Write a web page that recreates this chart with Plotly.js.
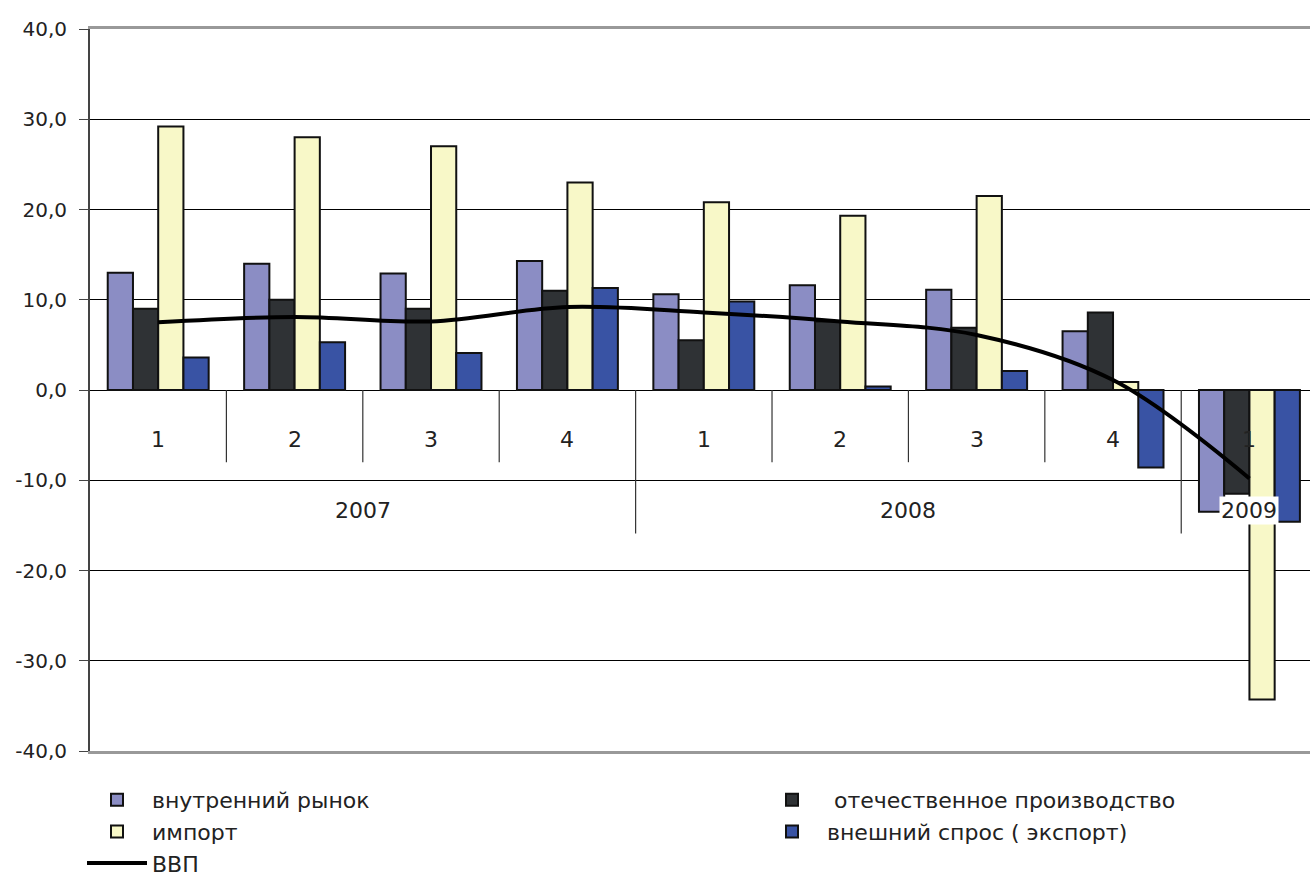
<!DOCTYPE html>
<html>
<head>
<meta charset="utf-8">
<script src="https://cdn.plot.ly/plotly-3.0.1.min.js"></script>
<style>html,body{margin:0;padding:0;background:#fff;}#chart{width:1310px;height:879px;}</style>
</head>
<body>
<div id="chart"></div>
<script>
// ---- data ----
const quarters = ['1','2','3','4','1','2','3','4','1'];
const years = ['2007','2007','2007','2007','2008','2008','2008','2008','2009'];
const domestic = [13.0, 14.0, 12.9, 14.3, 10.6, 11.6, 11.1, 6.5, -13.5];
const production = [9.0, 10.0, 9.0, 11.0, 5.5, 7.6, 6.9, 8.6, -11.5];
const imports = [29.2, 28.0, 27.0, 23.0, 20.8, 19.3, 21.5, 0.9, -34.3];
const exports = [3.6, 5.3, 4.1, 11.3, 9.8, 0.4, 2.1, -8.6, -14.6];
const gdp = [7.5, 8.1, 7.6, 9.2, 8.6, 7.6, 6.1, 1.1, -9.8];
const seriesNames = ['внутренний рынок', '\u00a0отечественное производство', 'импорт', 'внешний спрос ( экспорт)', 'ВВП'];
const yTickVals = [-40, -30, -20, -10, 0, 10, 20, 30, 40];
const yTickText = ['-40,0', '-30,0', '-20,0', '-10,0', '0,0', '10,0', '20,0', '30,0', '40,0'];

const idx = quarters.map((q, i) => i);
const FONT = 'DejaVu Sans';
const TXT = '#222';

function barTrace(name, y, color, legend) {
  return {
    type: 'bar', name: name, x: idx, y: y, legend: legend,
    marker: {color: color, line: {color: '#111', width: 2}},
    hoverinfo: 'skip'
  };
}

const traces = [
  barTrace(seriesNames[0], domestic, '#8B8DC4', 'legend'),
  barTrace(seriesNames[1], production, '#2F3235', 'legend2'),
  barTrace(seriesNames[2], imports, '#F8F8C8', 'legend'),
  barTrace(seriesNames[3], exports, '#3953A4', 'legend2'),
  {
    type: 'scatter', mode: 'lines', name: seriesNames[4], x: idx, y: gdp, legend: 'legend',
    line: {color: '#000', width: 4, shape: 'spline', smoothing: 1},
    hoverinfo: 'skip'
  }
];

// category axis labels (quarters and years) and dividers, placed through the data scales
const annotations = [];
quarters.forEach((q, i) => {
  annotations.push({
    x: i, y: -5.5, xref: 'x', yref: 'y', text: q, showarrow: false,
    font: {family: FONT, size: 22, color: TXT}
  });
});
const uniqYears = [...new Set(years)];
uniqYears.forEach(yr => {
  const ids = idx.filter(i => years[i] === yr);
  const c = ids.reduce((a, b) => a + b, 0) / ids.length;
  annotations.push({
    x: c, y: -13.3, xref: 'x', yref: 'y', text: yr, showarrow: false,
    font: {family: FONT, size: 22, color: TXT}, bgcolor: yr === uniqYears[uniqYears.length - 1] ? '#fff' : 'rgba(0,0,0,0)'
  });
});
const shapes = [];
for (let i = 1; i < quarters.length; i++) {
  const yearBreak = years[i] !== years[i - 1];
  shapes.push({
    type: 'line', xref: 'x', yref: 'y', layer: 'between',
    x0: i - 0.5, x1: i - 0.5, y0: 0, y1: yearBreak ? -15.9 : -8,
    line: {color: '#333', width: 1.2}
  });
}

const layout = {
  width: 1310, height: 879,
  margin: {l: 90, r: 0, t: 29, b: 128, pad: 0, autoexpand: false},
  paper_bgcolor: '#fff', plot_bgcolor: '#fff',
  separators: ', ',
  barmode: 'group', bargap: 0.26, bargroupgap: 0,
  font: {family: FONT, color: TXT},
  xaxis: {
    range: [-0.5, 8.444], showgrid: false, zeroline: false,
    showticklabels: false, ticks: '',
    showline: true, mirror: true, linecolor: '#999', linewidth: 3,
    fixedrange: true, automargin: false
  },
  yaxis: {
    range: [-40, 40], tickmode: 'array', tickvals: yTickVals, ticktext: yTickText,
    showgrid: true, gridcolor: '#000', gridwidth: 1, zeroline: false,
    showline: true, linecolor: '#444', linewidth: 2,
    ticks: 'outside', ticklen: 9, tickwidth: 1, tickcolor: '#444',
    ticklabelstandoff: 8,
    tickfont: {family: FONT, size: 20, color: TXT},
    fixedrange: true, automargin: false
  },
  showlegend: true,
  legend: {
    xref: 'container', yref: 'container',
    x: 82 / 1310, y: 1 - 779 / 879, xanchor: 'left', yanchor: 'top',
    orientation: 'v', itemwidth: 60, tracegroupgap: 0,
    bgcolor: 'rgba(0,0,0,0)', borderwidth: 0,
    font: {family: FONT, size: 22, color: TXT}
  },
  legend2: {
    xref: 'container', yref: 'container',
    x: 757 / 1310, y: 1 - 779 / 879, xanchor: 'left', yanchor: 'top',
    orientation: 'v', itemwidth: 60, tracegroupgap: 0,
    bgcolor: 'rgba(0,0,0,0)', borderwidth: 0,
    font: {family: FONT, size: 22, color: TXT}
  },
  annotations: annotations,
  shapes: shapes
};

Plotly.newPlot('chart', traces, layout, {staticPlot: true, displayModeBar: false});
</script>
</body>
</html>
